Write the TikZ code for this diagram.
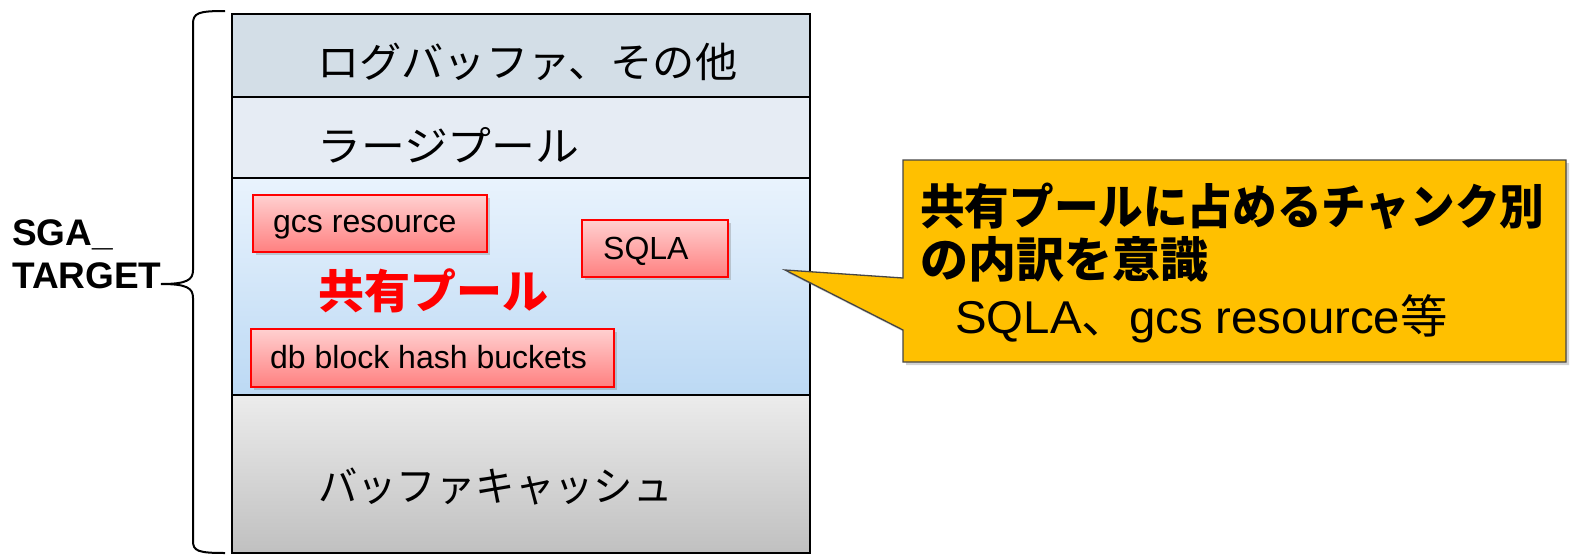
\documentclass[tikz,border=0pt]{standalone}
\usepackage{fontspec}
\setmainfont{Liberation Sans}
\newfontfamily\cjk{Noto Sans CJK JP}
\usetikzlibrary{shadows}
\definecolor{logfill}{RGB}{211,222,231}
\definecolor{largefill}{RGB}{230,236,244}
\definecolor{shtop}{RGB}{233,243,253}
\definecolor{shbot}{RGB}{188,217,244}
\definecolor{bctop}{RGB}{236,236,236}
\definecolor{bcbot}{RGB}{192,192,192}
\definecolor{redtop}{RGB}{255,208,208}
\definecolor{redbot}{RGB}{255,128,128}
\definecolor{calloutfill}{RGB}{255,192,0}
\definecolor{calloutline}{RGB}{70,70,70}
\begin{document}
\begin{tikzpicture}[x=1pt,y=-1pt,
  rowbox/.style={draw=black,line width=1.8pt,anchor=north west,minimum width=578pt,inner sep=0pt,outer sep=0pt},
  rowtext/.style={anchor=west,inner sep=0pt,font=\cjk\fontsize{41}{48}\selectfont},
  chunk/.style={draw=red,line width=1.5pt,top color=redtop,bottom color=redbot,anchor=north west,inner sep=0pt,outer sep=0pt,drop shadow={shadow xshift=3pt,shadow yshift=-3pt,opacity=0.35}},
  chunktext/.style={anchor=base west,inner sep=0pt,font=\fontsize{32}{38}\selectfont},
  sgatext/.style={anchor=base west,inner sep=0pt,font=\bfseries\fontsize{37}{42}\selectfont},
  calltext/.style={anchor=base west,inner sep=0pt},
]
\useasboundingbox (0,0) rectangle (1571,557);

% rows
\node[rowbox,fill=logfill,minimum height=83pt] (log) at (232,14) {};
\node[rowbox,fill=largefill,minimum height=81pt] (large) at (232,97) {};
\node[rowbox,top color=shtop,bottom color=shbot,minimum height=217pt] (shared) at (232,178) {};
\node[rowbox,top color=bctop,bottom color=bcbot,minimum height=158pt] (bcache) at (232,395) {};

\node[rowtext] (logt) at (317,62) {\scalebox{1.03}[1]{ログバッファ、その他}};
\node[rowtext] (larget) at (317,145) {\scalebox{1.07}[1]{ラージプール}};
\node[rowtext] (bct) at (318,487) {\scalebox{0.96}[1]{バッファキャッシュ}};
\node[rowtext,text=red,font=\cjk\bfseries\fontsize{46}{50}\selectfont] (sharedt) at (318,291) {共有プール};

% chunks
\node[chunk,minimum width=234pt,minimum height=57pt] (gcs) at (253,195) {};
\node[chunk,minimum width=146pt,minimum height=57pt] (sqla) at (582,220) {};
\node[chunk,minimum width=363pt,minimum height=58pt] (db) at (251,329) {};
\node[chunktext] (gcst) at (273,232) {gcs resource};
\node[chunktext] (sqlat) at (603,259) {SQLA};
\node[chunktext] (dbt) at (270,368) {db block hash buckets};

% SGA_TARGET brace
\node[sgatext] (sga1) at (12,245) {SGA\_};
\node[sgatext] (sga2) at (12,288) {TARGET};
\coordinate (btop) at (225,11);
\coordinate (bbot) at (225,553);
\coordinate (btip) at (161,284);
\draw[line width=2pt]
  (btop) .. controls (198,11) and (193,13) .. (193,24) -- (193,270)
  .. controls (193,280) and (187,284) .. (btip)
  .. controls (187,284) and (193,288) .. (193,298) -- (193,541)
  .. controls (193,551) and (198,553) .. (bbot);

% callout
\coordinate (tip) at (785,270);
\coordinate (cnw) at (903,160);
\coordinate (cse) at (1566,362);
\draw[draw=calloutline,line width=1.3pt,fill=calloutfill,drop shadow={shadow xshift=3pt,shadow yshift=-3pt,opacity=0.35}]
  (cnw) -- (1566,160) -- (cse) -- (903,362) -- (903,330) -- (tip) -- (903,278) -- cycle;
\node[calltext,font=\cjk\bfseries\fontsize{48}{53}\selectfont] (c1) at (920,224) {\resizebox{624pt}{\height}{共有プールに占めるチャンク別}};
\node[calltext,font=\cjk\bfseries\fontsize{48}{53}\selectfont] (c2) at (920,277) {の内訳を意識};
\node[calltext,font=\fontsize{46}{53}\selectfont] (c3) at (955,333) {\scalebox{1.03}[1]{SQLA{\cjk 、}gcs resource{\cjk 等}}};
\end{tikzpicture}
\end{document}
